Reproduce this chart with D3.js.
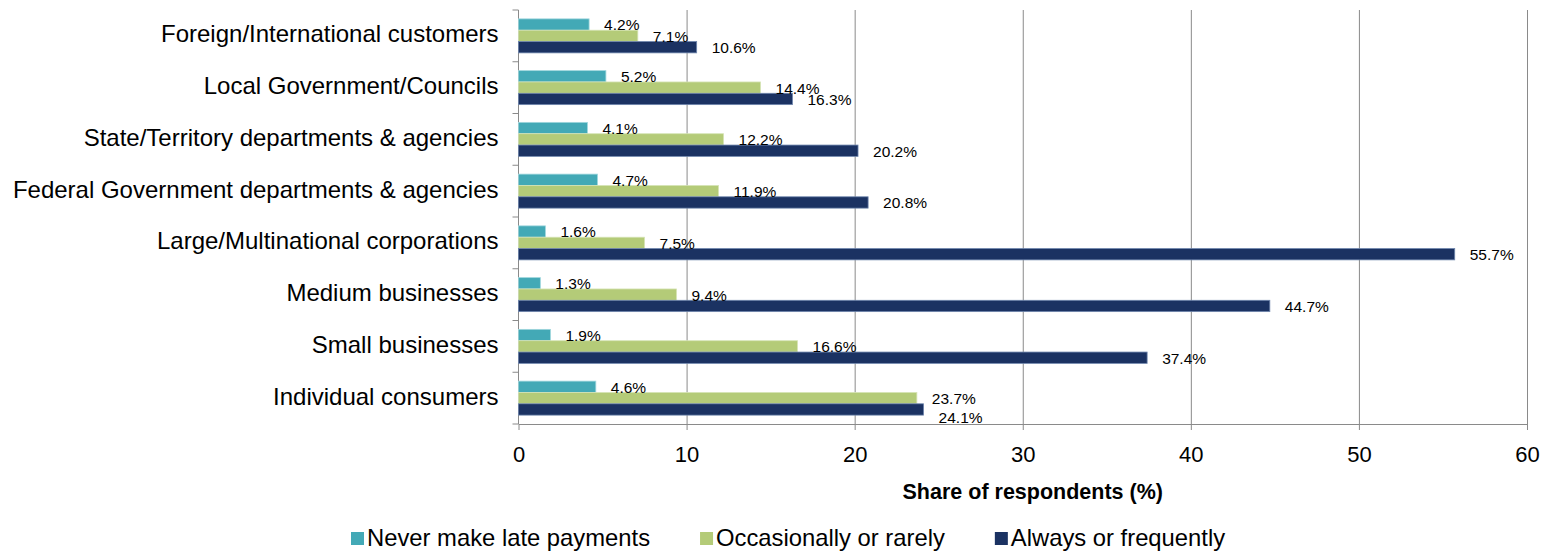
<!DOCTYPE html>
<html>
<head>
<meta charset="utf-8">
<script src="https://cdn.jsdelivr.net/npm/d3@7"></script>
<style>
  body { margin: 0; background: #fff; }
  svg { display: block; font-family: Arial, "Liberation Sans", sans-serif; }
</style>
</head>
<body>
<script>
"use strict";

// categories, top to bottom
const categories = [
  "Foreign/International customers",
  "Local Government/Councils",
  "State/Territory departments & agencies",
  "Federal Government departments & agencies",
  "Large/Multinational corporations",
  "Medium businesses",
  "Small businesses",
  "Individual consumers"
];
const seriesNames = ["Never make late payments", "Occasionally or rarely", "Always or frequently"];
const neverLate = [4.2, 5.2, 4.1, 4.7, 1.6, 1.3, 1.9, 4.6];
const occasionally = [7.1, 14.4, 12.2, 11.9, 7.5, 9.4, 16.6, 23.7];
const always = [10.6, 16.3, 20.2, 20.8, 55.7, 44.7, 37.4, 24.1];
const xTicks = [0, 10, 20, 30, 40, 50, 60];
const xTitle = "Share of respondents (%)";

const colors = ["#43a9b6", "#b4cb78", "#1b3262"];
const strokes = ["#9fd6dd", "#d6e4b6", "#6f86ad"];

const W = 1543, H = 552;
const plotL = 518.5, plotR = 1527, plotT = 10, plotB = 424;

const svg = d3.select("body").append("svg")
  .attr("width", W).attr("height", H);

const x = d3.scaleLinear().domain([0, 60]).range([plotL, plotR]);
const p = 0.343;
const y = d3.scaleBand().domain(categories).range([plotT, plotB])
  .paddingInner(p).paddingOuter(p / 2);
const ys = d3.scaleBand().domain(seriesNames).range([0, y.bandwidth()]);

// gridlines
svg.append("g")
  .attr("transform", "translate(0," + plotT + ")")
  .call(d3.axisBottom(x).tickValues(xTicks.slice(1)).tickSize(plotB - plotT).tickFormat(""))
  .call(g => g.select(".domain").remove())
  .call(g => g.selectAll("line").attr("stroke", "#8a8a8a").attr("stroke-width", 1));

// x axis
const xAxis = svg.append("g")
  .attr("transform", "translate(0," + plotB + ")")
  .call(d3.axisBottom(x).tickValues(xTicks).tickSize(6).tickSizeOuter(0).tickPadding(16));
xAxis.select(".domain").attr("stroke", "#8a8a8a");
xAxis.selectAll("line").attr("stroke", "#8a8a8a");
xAxis.selectAll("text").attr("font-size", 22).attr("fill", "#000")
  .attr("font-family", "Arial, 'Liberation Sans', sans-serif");

svg.append("text")
  .attr("x", (plotL + plotR) / 2 + 10).attr("y", 499)
  .attr("text-anchor", "middle")
  .attr("font-size", 21.5).attr("font-weight", "bold")
  .text(xTitle);

// y axis: labels
const yAxis = svg.append("g")
  .attr("transform", "translate(" + plotL + ",0)")
  .call(d3.axisLeft(y).tickSize(0).tickPadding(20));
yAxis.select(".domain").remove();
yAxis.selectAll("text").attr("font-size", 24).attr("fill", "#000")
  .attr("font-family", "Arial, 'Liberation Sans', sans-serif")
  .attr("dy", "0.27em");

// y axis line + boundary ticks
const bounds = categories.map(c => y(c) - y.step() * p / 2).concat([plotB]);
svg.append("line")
  .attr("x1", plotL).attr("x2", plotL).attr("y1", plotT).attr("y2", plotB)
  .attr("stroke", "#8a8a8a");
svg.append("g").selectAll("line").data(bounds).join("line")
  .attr("x1", plotL - 6).attr("x2", plotL)
  .attr("y1", d => d).attr("y2", d => d)
  .attr("stroke", "#8a8a8a");

// bars
const seriesData = [neverLate, occasionally, always];
const rows = [];
categories.forEach((c, i) => {
  seriesData.forEach((s, j) => rows.push({ cat: c, s: j, v: s[i] }));
});

svg.append("g").selectAll("rect").data(rows).join("rect")
  .attr("x", x(0))
  .attr("y", d => y(d.cat) + ys(seriesNames[d.s]))
  .attr("width", d => x(d.v) - x(0))
  .attr("height", ys.bandwidth())
  .attr("fill", d => colors[d.s])
  .attr("stroke", d => strokes[d.s])
  .attr("stroke-width", 0.8);

// value labels
const labels = svg.append("g").selectAll("text").data(rows).join("text")
  .attr("x", d => x(d.v) + 15)
  .attr("y", d => y(d.cat) + ys(seriesNames[d.s]) + ys.bandwidth() / 2 + 0.5)
  .attr("dy", "0.35em")
  .attr("font-size", 15.5)
  .attr("fill", "#000")
  .text(d => d.v.toFixed(1) + "%");

// push a label down if it mostly sits on top of the one above it
const nodes = labels.nodes();
for (let i = 1; i < nodes.length; i++) {
  const a = nodes[i - 1].getBBox(), b = nodes[i].getBBox();
  if (rows[i].cat === rows[i - 1].cat && b.x < a.x + a.width / 2) {
    d3.select(nodes[i]).attr("y", +d3.select(nodes[i]).attr("y") + 8);
  }
}

// legend
const legend = svg.append("g");
let lx = 351;
seriesNames.forEach((n, i) => {
  legend.append("rect")
    .attr("x", lx).attr("y", 532).attr("width", 13).attr("height", 13)
    .attr("fill", colors[i]);
  const t = legend.append("text")
    .attr("x", lx + 16).attr("y", 546)
    .attr("font-size", 23.8)
    .text(n);
  lx += 16 + t.node().getComputedTextLength() + 50;
});
</script>
</body>
</html>
